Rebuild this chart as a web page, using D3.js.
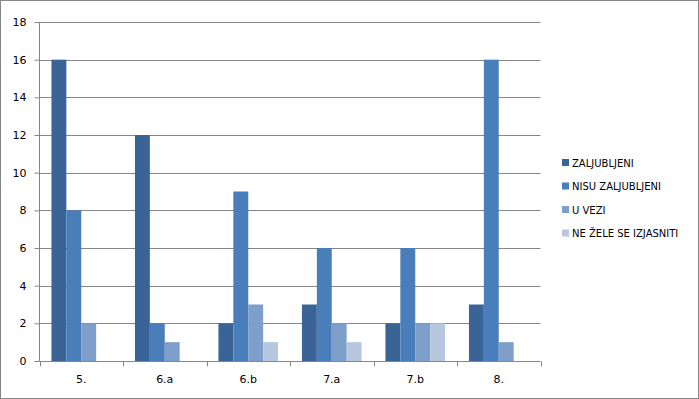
<!DOCTYPE html>
<html>
<head>
<meta charset="utf-8">
<script src="https://cdn.jsdelivr.net/npm/d3@7"></script>
<style>
  body { margin: 0; background: #fff; }
  text { font-family: "DejaVu Sans", Verdana, sans-serif; fill: #000; }
</style>
</head>
<body>
<script>
var categories = ["5.", "6.a", "6.b", "7.a", "7.b", "8."]
var seriesNames = ["ZALJUBLJENI", "NISU ZALJUBLJENI", "U VEZI", "NE ŽELE SE IZJASNITI"]
var zaljubljeni = [16, 12, 2, 3, 2, 3]
var nisuZaljubljeni = [8, 2, 9, 6, 6, 16]
var uVezi = [2, 1, 3, 2, 2, 1]
var neZele = [0, 0, 1, 1, 2, 0]
var yTicks = [0, 2, 4, 6, 8, 10, 12, 14, 16, 18]

var seriesValues = [zaljubljeni, nisuZaljubljeni, uVezi, neZele]
var seriesColors = ["#3b6496", "#4a7ebb", "#7f9fcb", "#b7c7e0"]
var gridColor = "#868686"

var width = 699, height = 399
var svg = d3.select("body").append("svg")
    .attr("width", width)
    .attr("height", height)

svg.append("rect")
    .attr("x", 0.5).attr("y", 0.5)
    .attr("width", width - 1).attr("height", height - 1)
    .attr("fill", "#fff")
    .attr("stroke", gridColor)

var plotLeft = 39.5, plotRight = 540.5, plotTop = 22, plotBottom = 361

var x = d3.scaleBand().domain(categories).range([plotLeft, plotRight])
var inner = d3.scaleBand().domain(d3.range(seriesNames.length))
    .range([x.bandwidth() * 0.143, x.bandwidth() * 0.857])
var y = d3.scaleLinear().domain([0, 18]).range([plotBottom, plotTop])

// gridlines
svg.append("g")
    .selectAll("line")
    .data(yTicks.filter(function (d) { return d > 0 }))
    .enter().append("line")
    .attr("x1", plotLeft).attr("x2", plotRight)
    .attr("y1", function (d) { return Math.round(y(d)) + 0.5 })
    .attr("y2", function (d) { return Math.round(y(d)) + 0.5 })
    .attr("stroke", gridColor)

// bars
var groups = svg.append("g")
    .selectAll("g")
    .data(seriesValues)
    .enter().append("g")
    .attr("fill", function (d, i) { return seriesColors[i] })

groups.selectAll("rect")
    .data(function (d, i) { return d.map(function (v, j) { return { s: i, c: categories[j], v: v } }) })
    .enter().append("rect")
    .attr("x", function (d) { return x(d.c) + inner(d.s) })
    .attr("width", inner.bandwidth())
    .attr("y", function (d) { return y(d.v) })
    .attr("height", function (d) { return y(0) - y(d.v) })

// y axis
var yAxis = svg.append("g")
    .attr("transform", "translate(" + plotLeft + ",0)")
    .call(d3.axisLeft(y).tickValues(yTicks).tickSize(5).tickPadding(8).tickFormat(d3.format("d")))
yAxis.selectAll("line, path").attr("stroke", gridColor)
yAxis.select(".domain").attr("d", "M0," + plotTop + "V" + plotBottom)
yAxis.selectAll("text").style("font-size", "11px").attr("fill", "#000")

// x axis
var xAxis = svg.append("g")
    .attr("transform", "translate(0," + (plotBottom + 0.5) + ")")
    .call(d3.axisBottom(x).tickSize(0).tickPadding(14))
xAxis.select(".domain").attr("stroke", gridColor).attr("d", "M" + plotLeft + ",0H" + plotRight)
xAxis.selectAll("text").style("font-size", "11px").attr("fill", "#000")
xAxis.append("g")
    .selectAll("line")
    .data(d3.range(categories.length + 1))
    .enter().append("line")
    .attr("x1", function (d) { return Math.round(plotLeft + d * x.step()) + 0.5 })
    .attr("x2", function (d) { return Math.round(plotLeft + d * x.step()) + 0.5 })
    .attr("y1", 0).attr("y2", 5)
    .attr("stroke", gridColor)

// legend
var legend = svg.append("g")
    .selectAll("g")
    .data(seriesNames)
    .enter().append("g")
    .attr("transform", function (d, i) { return "translate(562," + (163 + i * 23.5) + ")" })

legend.append("rect")
    .attr("x", 0).attr("y", -4)
    .attr("width", 7).attr("height", 7)
    .attr("fill", function (d, i) { return seriesColors[i] })

legend.append("text")
    .attr("x", 10).attr("y", 0)
    .attr("dy", "0.35em")
    .style("font-size", "10px")
    .text(function (d) { return d })
</script>
</body>
</html>
